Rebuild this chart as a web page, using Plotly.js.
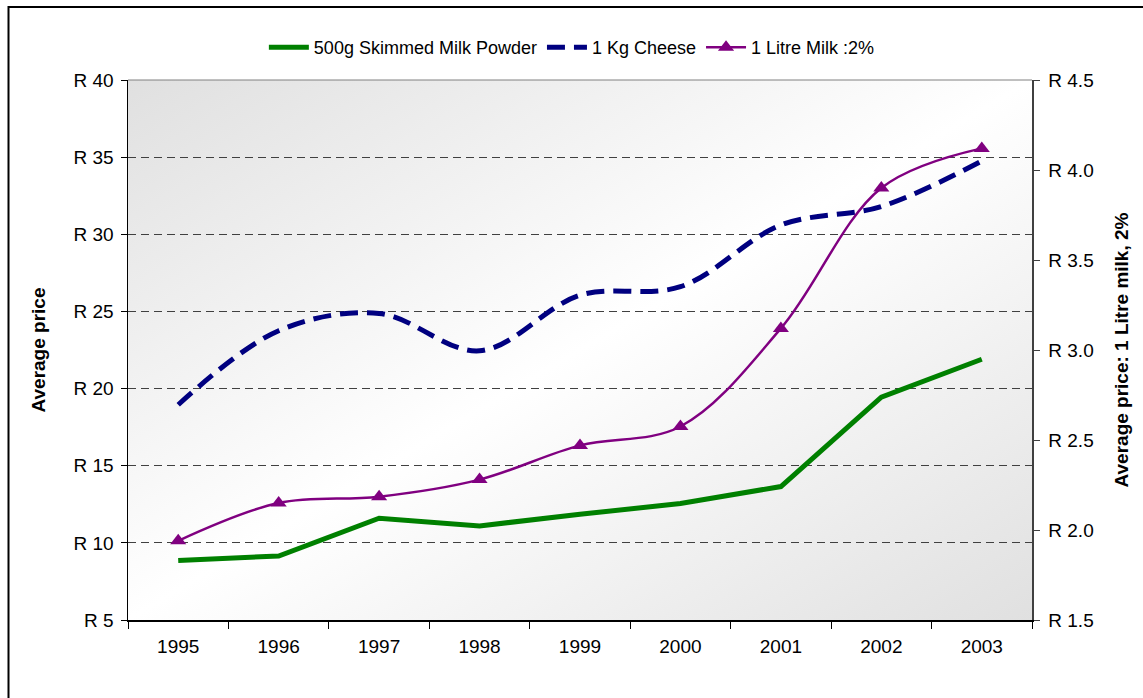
<!DOCTYPE html>
<html>
<head>
<meta charset="utf-8">
<script src="https://cdn.plot.ly/plotly-3.0.1.min.js"></script>
<style>
  html, body { margin: 0; padding: 0; background: #ffffff; }
  #chart { width: 1143px; height: 698px; }
</style>
</head>
<body>
<div id="chart"></div>
<script>
// ---- Data ----
const years = ['1995', '1996', '1997', '1998', '1999', '2000', '2001', '2002', '2003'];
const skimmedMilkPowder = [8.85, 9.15, 11.6, 11.1, 11.85, 12.55, 13.65, 19.45, 21.9];   // R, left axis
const cheese1Kg = [18.95, 23.75, 24.87, 22.45, 26.05, 26.6, 30.6, 31.8, 34.75];          // R, left axis
const milk1Litre = [1.94, 2.15, 2.185, 2.28, 2.47, 2.575, 3.12, 3.90, 4.12];             // R, right axis
const leftTicks = [5, 10, 15, 20, 25, 30, 35, 40];
const rightTicks = [1.5, 2.0, 2.5, 3.0, 3.5, 4.0, 4.5];

// ---- Gradient background for plot area (drawn on a canvas) ----
const W = 904, H = 540;
const cv = document.createElement('canvas');
cv.width = W; cv.height = H;
const ctx = cv.getContext('2d');
const g = ctx.createLinearGradient(0, 0, 475, 796);
g.addColorStop(0, '#e0e0e0');
g.addColorStop(0.5, '#ffffff');
g.addColorStop(1, '#e0e0e0');
ctx.fillStyle = g;
ctx.fillRect(0, 0, W, H);
const bgURL = cv.toDataURL('image/png');

const FONT = 'Liberation Sans, Arial, sans-serif';

const traces = [
  {
    x: years, y: skimmedMilkPowder, name: '500g Skimmed Milk Powder',
    type: 'scatter', mode: 'lines',
    line: { color: '#008000', width: 5 },
    yaxis: 'y'
  },
  {
    x: years, y: cheese1Kg, name: '1 Kg Cheese',
    type: 'scatter', mode: 'lines',
    line: { color: '#000080', width: 5, dash: '18px,9px', shape: 'spline', smoothing: 1 },
    yaxis: 'y'
  },
  {
    x: years, y: milk1Litre, name: '1 Litre Milk :2%',
    type: 'scatter', mode: 'lines+markers',
    line: { color: '#800080', width: 2.5, shape: 'spline', smoothing: 1 },
    marker: { symbol: 'triangle-up', size: 14, color: '#800080' },
    yaxis: 'y2'
  }
];

const layout = {
  width: 1143, height: 698,
  margin: { l: 128, r: 111, t: 80, b: 78 },
  paper_bgcolor: '#ffffff',
  plot_bgcolor: 'rgba(0,0,0,0)',
  font: { family: FONT, size: 19, color: '#000000' },
  showlegend: true,
  legend: {
    orientation: 'h', x: 0.491, xanchor: 'center', y: 1.06, yanchor: 'middle',
    font: { family: FONT, size: 18, color: '#000000' },
    bgcolor: 'rgba(0,0,0,0)', itemwidth: 40
  },
  xaxis: {
    type: 'category', range: [-0.5, 8.5],
    tickson: 'boundaries', ticks: 'outside', ticklen: 7, tickwidth: 1, tickcolor: '#000000',
    showline: true, linecolor: '#000000', linewidth: 1.5,
    showgrid: false, zeroline: false, ticklabelstandoff: 9,
    tickfont: { family: FONT, size: 19, color: '#000000' }
  },
  yaxis: {
    range: [5, 40], tickvals: leftTicks, ticktext: leftTicks.map(v => 'R ' + v),
    ticks: 'outside', ticklen: 6, tickcolor: '#000000',
    showline: true, linecolor: '#000000', linewidth: 1.5,
    showgrid: true, gridcolor: '#404040', gridwidth: 1, griddash: '8px,5px',
    zeroline: false, ticklabelstandoff: 3,
    tickfont: { family: FONT, size: 19, color: '#000000' },
    title: { text: '<b>Average price</b>', font: { family: FONT, size: 19, color: '#000000' }, standoff: 23 }
  },
  yaxis2: {
    overlaying: 'y', side: 'right',
    range: [1.5, 4.5], tickvals: rightTicks, ticktext: rightTicks.map(v => 'R ' + v.toFixed(1)),
    ticks: 'outside', ticklen: 6, tickcolor: '#404040',
    showline: true, linecolor: '#404040', linewidth: 1.5,
    showgrid: false, zeroline: false, ticklabelstandoff: 5,
    tickfont: { family: FONT, size: 19, color: '#000000' },
    title: { text: '<b>Average price: 1 Litre milk, 2%</b>', font: { family: FONT, size: 19, color: '#000000' }, standoff: 22 }
  },
  images: [{
    source: bgURL, xref: 'paper', yref: 'paper', x: 0, y: 1, sizex: 1, sizey: 1,
    xanchor: 'left', yanchor: 'top', sizing: 'stretch', layer: 'below'
  }],
  shapes: [
    { type: 'line', xref: 'paper', yref: 'paper', x0: 0, x1: 1, y0: 1, y1: 1,
      line: { color: '#808080', width: 1 }, layer: 'below' },
    { type: 'rect', xref: 'paper', yref: 'paper',
      x0: (8.5 - 128) / 904, x1: (1160 - 128) / 904,
      y0: (620 - 720) / 540, y1: 1 + (80 - 7) / 540,
      line: { color: '#000000', width: 2 }, fillcolor: 'rgba(0,0,0,0)', layer: 'above' }
  ]
};

Plotly.newPlot('chart', traces, layout, { displayModeBar: false, staticPlot: true });
</script>
</body>
</html>
